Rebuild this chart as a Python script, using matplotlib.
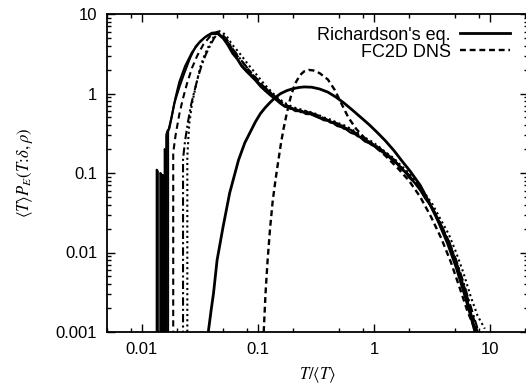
import numpy as np
import matplotlib
matplotlib.use('Agg')
import matplotlib.pyplot as plt
from matplotlib.ticker import LogLocator, NullFormatter

plt.rcParams['font.family'] = ['Liberation Sans', 'DejaVu Sans']
plt.rcParams['mathtext.fontset'] = 'stix'

# Richardson's equation (smooth solid curve)
rich_t = [0.0373, 0.0395, 0.0414, 0.0444, 0.05, 0.057, 0.068, 0.077, 0.086, 0.095,
          0.105, 0.116, 0.128, 0.142, 0.157, 0.178, 0.2, 0.225, 0.25, 0.29,
          0.34, 0.4, 0.47, 0.55, 0.65, 0.77, 0.9, 1.05, 1.25, 1.49,
          1.75, 2.05, 2.5, 3.0, 3.6, 4.3, 5.1, 6.0, 6.8, 7.4]
rich_p = [0.001, 0.0019, 0.0031, 0.008, 0.021, 0.056, 0.146, 0.24, 0.33, 0.44,
          0.56, 0.67, 0.78, 0.9, 1.0, 1.09, 1.15, 1.19, 1.21, 1.2,
          1.14, 1.04, 0.9, 0.76, 0.62, 0.5, 0.41, 0.33, 0.255, 0.19,
          0.14, 0.105, 0.07, 0.042, 0.024, 0.013, 0.0065, 0.003, 0.0016, 0.001]

# FC2D DNS (dashed)
dns_t = [0.112, 0.116, 0.121, 0.127, 0.134, 0.142, 0.15, 0.158, 0.166, 0.175,
         0.185, 0.195, 0.21, 0.23, 0.25, 0.273, 0.3, 0.34, 0.4, 0.46,
         0.52, 0.6, 0.7, 0.82, 1.0, 1.25, 1.6, 2.0, 2.5, 3.1,
         3.8, 4.6, 5.5, 6.4, 7.2, 7.9]
dns_p = [0.001, 0.003, 0.008, 0.02, 0.045, 0.085, 0.146, 0.24, 0.36, 0.52,
         0.75, 1.0, 1.35, 1.7, 1.9, 1.98, 1.95, 1.8, 1.5, 1.1,
         0.76, 0.5, 0.36, 0.28, 0.22, 0.165, 0.115, 0.08, 0.05, 0.028,
         0.015, 0.0075, 0.0035, 0.0018, 0.0012, 0.001]

# measured curves: rising part (own T values) + common falling part
fall_t = [0.045, 0.05, 0.055, 0.06, 0.066, 0.072, 0.079, 0.087, 0.095, 0.105,
          0.115, 0.127, 0.14, 0.155, 0.17, 0.19, 0.21, 0.235, 0.26, 0.29,
          0.33, 0.37, 0.42, 0.48, 0.55, 0.63, 0.72, 0.83, 0.95, 1.1,
          1.27, 1.47, 1.7, 2.0, 2.35, 2.75, 3.2, 3.75, 4.4, 5.1,
          5.9, 6.8, 7.8, 9.0]

c1_t = [0.0134, 0.0134, 0.0137, 0.0137, 0.0144, 0.0144, 0.0146, 0.0146, 0.0151, 0.0151,
        0.0153, 0.0153, 0.0162, 0.0162, 0.0166, 0.0172, 0.019, 0.021, 0.023, 0.026,
        0.029, 0.032, 0.036, 0.04]
c1_p = [0, 0.11, 0.105, 0, 0, 0.1, 0.098, 0, 0, 0.095,
        0.09, 0, 0, 0.3, 0.34, 0.36, 0.75, 1.2, 1.75, 2.8,
        3.9, 4.6, 5.3, 5.8]
c1_fall = [5.9, 5.0, 4.4, 3.4, 2.8, 2.3, 2.0, 1.75, 1.5, 1.3,
           1.1, 1.0, 0.92, 0.76, 0.7, 0.64, 0.64, 0.58, 0.6, 0.54,
           0.5, 0.49, 0.43, 0.42, 0.36, 0.35, 0.29, 0.27, 0.225, 0.21,
           0.17, 0.15, 0.112, 0.095, 0.068, 0.052, 0.034, 0.023, 0.013, 0.0078,
           0.0036, 0.0018, 0.0008, 0]

c2_t = [0.0157, 0.0157, 0.0159, 0.0159, 0.0168, 0.0168, 0.018, 0.0195, 0.021, 0.0235,
        0.027, 0.031, 0.035, 0.04]
c2_p = [0, 0.2, 0.19, 0, 0, 0.33, 0.5, 0.9, 1.4, 2.2,
        3.3, 4.3, 5.1, 5.6]
c2_fall = [5.6, 4.9, 4.0, 3.2, 2.7, 2.2, 1.9, 1.65, 1.45, 1.22,
           1.08, 0.95, 0.85, 0.75, 0.68, 0.66, 0.6, 0.6, 0.55, 0.55,
           0.5, 0.46, 0.45, 0.39, 0.37, 0.32, 0.3, 0.25, 0.23, 0.195,
           0.17, 0.14, 0.12, 0.088, 0.07, 0.048, 0.036, 0.021, 0.014, 0.0072,
           0.0038, 0.0016, 0.0008, 0]

c3_t = [0.0185, 0.0186, 0.0195, 0.021, 0.0225, 0.0245, 0.027, 0.03, 0.034, 0.039]
c3_p = [0, 0.18, 0.3, 0.55, 0.85, 1.35, 2.1, 3.0, 4.2, 5.3]
c3_fall = [6.0, 5.3, 4.5, 3.6, 3.0, 2.6, 2.15, 1.85, 1.6, 1.35,
           1.18, 1.05, 0.88, 0.8, 0.72, 0.68, 0.62, 0.61, 0.57, 0.57,
           0.53, 0.47, 0.46, 0.42, 0.38, 0.345, 0.31, 0.26, 0.24, 0.2,
           0.18, 0.145, 0.12, 0.09, 0.072, 0.05, 0.036, 0.022, 0.0138, 0.0078,
           0.004, 0.002, 0.001, 0.0004]

c4_t = [0.0225, 0.0226, 0.0235, 0.025, 0.0265, 0.028, 0.03, 0.0325, 0.0355, 0.039, 0.042]
c4_p = [0, 0.15, 0.25, 0.45, 0.72, 1.0, 1.5, 2.2, 3.1, 4.1, 5.0]
c4_fall = [5.7, 5.4, 4.6, 3.7, 3.1, 2.6, 2.2, 1.8, 1.6, 1.35,
           1.2, 1.02, 0.93, 0.8, 0.74, 0.67, 0.63, 0.61, 0.58, 0.57,
           0.52, 0.49, 0.45, 0.41, 0.39, 0.34, 0.31, 0.27, 0.235, 0.21,
           0.175, 0.148, 0.12, 0.094, 0.07, 0.051, 0.036, 0.023, 0.014, 0.008,
           0.0042, 0.0021, 0.0011, 0.0005]

c5_t = [0.0245, 0.0246, 0.0255, 0.027, 0.029, 0.0318, 0.0345, 0.0373, 0.041]
c5_p = [0, 0.16, 0.4, 0.75, 1.2, 2.15, 3.0, 3.85, 5.0]
c5_fall = [6.2, 5.8, 5.0, 4.1, 3.5, 3.0, 2.5, 2.1, 1.8, 1.5,
           1.28, 1.1, 0.95, 0.84, 0.76, 0.7, 0.66, 0.63, 0.6, 0.58,
           0.54, 0.5, 0.47, 0.43, 0.4, 0.36, 0.32, 0.28, 0.25, 0.215,
           0.18, 0.155, 0.125, 0.1, 0.075, 0.055, 0.04, 0.026, 0.017, 0.01,
           0.0055, 0.0028, 0.0016, 0.0011]

curves = [(c1_t, c1_p, c1_fall, '-'),
          (c2_t, c2_p, c2_fall, '-'),
          (c3_t, c3_p, c3_fall, (0, (3, 2))),
          (c4_t, c4_p, c4_fall, (0, (4, 1.5, 1, 1.5))),
          (c5_t, c5_p, c5_fall, (0, (1, 1.5)))]

fig = plt.figure(figsize=(5.26, 3.88), dpi=100)
ax = fig.add_axes([107/526, 56/388, 421/526, 318/388])

for t, p, pf, ls in curves:
    ax.plot(list(t) + fall_t, list(p) + pf, color='black', lw=1.5, ls=ls)

ax.plot(rich_t, rich_p, color='black', lw=2.0, label="Richardson's eq.")
ax.plot(dns_t, dns_p, color='black', lw=1.7, dashes=(2.5, 1.6), label='FC2D DNS')

ax.set_xscale('log', nonpositive='clip')
ax.set_yscale('log', nonpositive='clip')
ax.set_xlim(0.005, 21.2)
ax.set_ylim(0.001, 10)

ax.set_xticks([0.01, 0.1, 1, 10])
ax.set_xticklabels(['0.01', '0.1', '1', '10'])
ax.xaxis.set_minor_locator(LogLocator(base=10, subs=[2, 5, 8], numticks=50))
ax.xaxis.set_minor_formatter(NullFormatter())
ax.set_yticks([0.001, 0.01, 0.1, 1, 10])
ax.set_yticklabels(['0.001', '0.01', '0.1', '1', '10'])
ax.yaxis.set_minor_locator(LogLocator(base=10, subs=np.arange(2, 10), numticks=50))
ax.yaxis.set_minor_formatter(NullFormatter())

ax.tick_params(which='both', direction='in', top=True, right=True, width=1.0, labelsize=12)
ax.tick_params(which='major', length=6, pad=7)
ax.tick_params(which='minor', length=3)
for s in ax.spines.values():
    s.set_linewidth(1.3)

ax.set_xlabel(r'$T/\langle T\rangle$', fontsize=12, labelpad=6)
ax.set_ylabel(r'$\langle T\rangle P_E(T\!:\!\delta,\rho)$', fontsize=12, labelpad=15)

leg = ax.legend(loc='upper right', bbox_to_anchor=(0.958, 0.96), frameon=False,
                markerfirst=False, fontsize=13, handlelength=2.8, handletextpad=0.5,
                labelspacing=0.0, borderpad=0, borderaxespad=0)

fig.savefig('out.png', dpi=100)
